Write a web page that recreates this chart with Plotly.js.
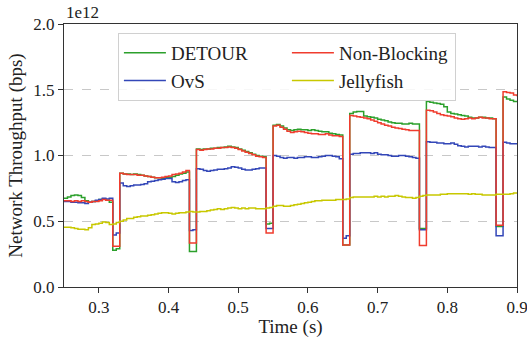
<!DOCTYPE html>
<html>
<head>
<meta charset="utf-8">
<script src="https://cdn.plot.ly/plotly-3.0.1.min.js"></script>
<style>html,body{margin:0;padding:0;background:#fff;}#chart{width:527px;height:338px;}</style>
</head>
<body>
<div id="chart"></div>
<script>
// time (s), sampled every 5 ms
const time = [0.25,0.255,0.26,0.265,0.27,0.275,0.28,0.285,0.29,0.295,0.30,0.305,0.31,0.315,0.32,0.325,0.33,0.335,0.34,0.345,0.35,0.355,0.36,0.365,0.37,0.375,0.38,0.385,0.39,0.395,0.40,0.405,0.41,0.415,0.42,0.425,0.43,0.435,0.44,0.445,0.45,0.455,0.46,0.465,0.47,0.475,0.48,0.485,0.49,0.495,0.50,0.505,0.51,0.515,0.52,0.525,0.53,0.535,0.54,0.545,0.55,0.555,0.56,0.565,0.57,0.575,0.58,0.585,0.59,0.595,0.60,0.605,0.61,0.615,0.62,0.625,0.63,0.635,0.64,0.645,0.65,0.655,0.66,0.665,0.67,0.675,0.68,0.685,0.69,0.695,0.70,0.705,0.71,0.715,0.72,0.725,0.73,0.735,0.74,0.745,0.75,0.755,0.76,0.765,0.77,0.775,0.78,0.785,0.79,0.795,0.80,0.805,0.81,0.815,0.82,0.825,0.83,0.835,0.84,0.845,0.85,0.855,0.86,0.865,0.87,0.875,0.88,0.885,0.89,0.895,0.90];

// throughput in units of 1e12 bps
const detour = [
  0.675,0.685,0.695,0.70,0.695,0.68,0.655,0.645,0.65,0.655,0.665,0.67,0.66,0.645,
  0.28,0.29,
  0.865,0.86,0.86,0.855,0.86,0.855,0.85,0.845,0.84,0.835,0.83,0.83,0.825,0.83,0.835,0.84,0.85,0.86,0.865,0.875,
  0.27,0.27,
  1.05,1.045,1.05,1.05,1.055,1.055,1.06,1.06,1.065,1.07,1.065,1.06,1.05,1.04,1.03,1.02,1.01,1.0,0.995,0.99,
  0.48,0.485,
  1.23,1.235,1.225,1.21,1.195,1.19,1.195,1.20,1.195,1.195,1.19,1.195,1.19,1.185,1.18,1.18,1.17,1.165,1.16,1.155,
  0.32,0.32,
  1.32,1.33,1.335,1.335,1.30,1.295,1.29,1.285,1.275,1.27,1.265,1.255,1.25,1.245,1.245,1.24,1.24,1.245,1.24,1.24,
  0.445,0.445,
  1.41,1.405,1.40,1.395,1.39,1.37,1.33,1.32,1.315,1.31,1.305,1.30,1.29,1.285,1.285,1.29,1.29,1.285,1.285,1.28,
  0.46,0.46,
  1.445,1.43,1.42,1.41,1.405
];
const nonBlocking = [
  0.655,0.655,0.65,0.655,0.65,0.655,0.65,0.645,0.65,0.65,0.655,0.665,0.66,0.66,
  0.31,0.31,
  0.865,0.86,0.855,0.855,0.855,0.85,0.85,0.845,0.84,0.835,0.83,0.83,0.835,0.84,0.845,0.855,0.86,0.865,0.875,0.885,
  0.335,0.335,
  1.045,1.04,1.045,1.05,1.05,1.055,1.055,1.06,1.06,1.065,1.06,1.055,1.045,1.035,1.025,1.015,1.005,0.995,0.99,0.985,
  0.41,0.41,
  1.225,1.23,1.215,1.20,1.185,1.175,1.18,1.185,1.18,1.175,1.17,1.165,1.165,1.16,1.16,1.165,1.155,1.15,1.15,1.145,
  0.32,0.32,
  1.305,1.30,1.295,1.29,1.285,1.28,1.27,1.26,1.25,1.24,1.23,1.225,1.215,1.21,1.205,1.20,1.195,1.19,1.19,1.19,
  0.315,0.315,
  1.345,1.34,1.33,1.32,1.31,1.305,1.30,1.295,1.285,1.28,1.275,1.28,1.285,1.28,1.285,1.29,1.285,1.285,1.28,1.28,
  0.47,0.47,
  1.485,1.48,1.475,1.46,1.45
];
const ovs = [
  0.65,0.65,0.645,0.645,0.64,0.64,0.635,0.645,0.65,0.66,0.665,0.675,0.67,0.675,
  0.395,0.41,
  0.79,0.77,0.765,0.77,0.775,0.775,0.78,0.785,0.80,0.805,0.81,0.815,0.82,0.825,0.825,0.80,0.795,0.80,0.81,0.815,
  0.43,0.435,
  0.90,0.895,0.885,0.88,0.885,0.89,0.895,0.895,0.90,0.905,0.915,0.91,0.905,0.895,0.89,0.89,0.895,0.90,0.905,0.905,
  0.445,0.445,
  1.0,0.995,0.985,0.98,0.985,0.985,0.98,0.985,0.985,0.99,0.99,0.985,0.985,0.99,0.995,1.0,1.0,0.995,0.99,0.975,
  0.37,0.39,
  1.01,1.015,1.015,1.02,1.02,1.02,1.015,1.02,1.01,1.005,1.005,1.0,0.995,0.995,1.0,1.0,0.995,0.99,0.985,0.98,
  0.435,0.435,
  1.105,1.10,1.10,1.095,1.095,1.09,1.09,1.095,1.085,1.075,1.07,1.065,1.07,1.07,1.07,1.065,1.07,1.065,1.06,1.06,
  0.39,0.39,
  1.10,1.095,1.09,1.09,1.095
];
const jellyfish = [
  0.455,0.455,0.45,0.445,0.44,0.44,0.435,0.45,0.475,0.48,0.485,0.495,0.49,0.475,0.48,0.49,
  0.50,0.51,0.52,0.52,0.53,0.535,0.54,0.54,0.545,0.55,0.555,0.56,0.565,0.565,0.56,0.555,0.56,0.565,0.565,0.57,
  0.575,0.57,0.57,0.575,0.575,0.58,0.585,0.59,0.595,0.59,0.595,0.60,0.605,0.60,0.595,0.60,0.595,0.60,0.60,0.595,
  0.595,0.595,0.60,0.605,0.615,0.62,0.62,0.615,0.615,0.62,0.625,0.63,0.635,0.64,0.645,0.65,0.655,0.655,0.66,0.66,
  0.66,0.66,0.665,0.665,0.665,0.67,0.68,0.685,0.685,0.685,0.685,0.685,0.685,0.69,0.685,0.69,0.685,0.69,0.69,0.695,
  0.69,0.685,0.68,0.68,0.675,0.68,0.69,0.695,0.70,0.70,0.70,0.70,0.705,0.705,0.71,0.71,0.71,0.71,0.71,0.71,
  0.705,0.71,0.705,0.705,0.70,0.70,0.70,0.70,0.705,0.705,0.705,0.705,0.71,0.715,0.72
];

const seriesNames = ['DETOUR','OvS','Non-Blocking','Jellyfish'];
const seriesData = [detour, ovs, nonBlocking, jellyfish];
const seriesColors = ['#2ca02c','#3347b8','#f03c2e','#c8c800'];
const legendRanks = [1, 3, 2, 4];

const traces = seriesNames.map((n, i) => ({
  type: 'scatter', mode: 'lines', name: n, x: time, y: seriesData[i],
  line: {color: seriesColors[i], width: 1.5, shape: 'hv'},
  legendrank: legendRanks[i]
}));

const font = 'Liberation Serif, Times New Roman, Times, serif';
const layout = {
  width: 527, height: 338,
  margin: {l: 64, r: 10, t: 24, b: 51},
  paper_bgcolor: '#fff', plot_bgcolor: '#fff',
  font: {family: font, size: 17, color: '#222'},
  showlegend: true,
  legend: {
    orientation: 'h', x: 0.119, y: 0.966, xanchor: 'left', yanchor: 'top',
    bgcolor: 'rgba(255,255,255,0.85)', bordercolor: '#d0d0d0', borderwidth: 1,
    font: {family: font, size: 19, color: '#222'}, entrywidth: 111, itemwidth: 42,
    traceorder: 'normal'
  },
  xaxis: {
    range: [0.25, 0.9], tickvals: [0.3,0.4,0.5,0.6,0.7,0.8,0.9],
    ticktext: ['0.3','0.4','0.5','0.6','0.7','0.8','0.9'],
    ticklabeloverflow: 'allow',
    showgrid: false, zeroline: false, showline: true, mirror: true,
    linecolor: '#333', linewidth: 1, ticks: 'outside', ticklen: 5, tickcolor: '#333',
    title: {text: 'Time (s)', font: {family: font, size: 19, color: '#222'}, standoff: 6}
  },
  yaxis: {
    range: [0, 2.0], tickvals: [0, 0.5, 1.0, 1.5, 2.0],
    ticktext: ['0.0','0.5','1.0','1.5','2.0'],
    showgrid: true, gridcolor: '#c8c8c8', griddash: 'dash', gridwidth: 1,
    zeroline: false, showline: true, mirror: true,
    linecolor: '#333', linewidth: 1, ticks: 'outside', ticklen: 5, tickcolor: '#333',
    title: {text: 'Network Throughput (bps)', font: {family: font, size: 19, color: '#222'}, standoff: 5}
  },
  annotations: [{
    text: '1e12', xref: 'paper', yref: 'paper', x: 0, y: 1, xanchor: 'left', yanchor: 'bottom',
    showarrow: false, font: {family: font, size: 17, color: '#222'}, yshift: 0
  }]
};

Plotly.newPlot('chart', traces, layout, {staticPlot: true, displayModeBar: false});
</script>
</body>
</html>
